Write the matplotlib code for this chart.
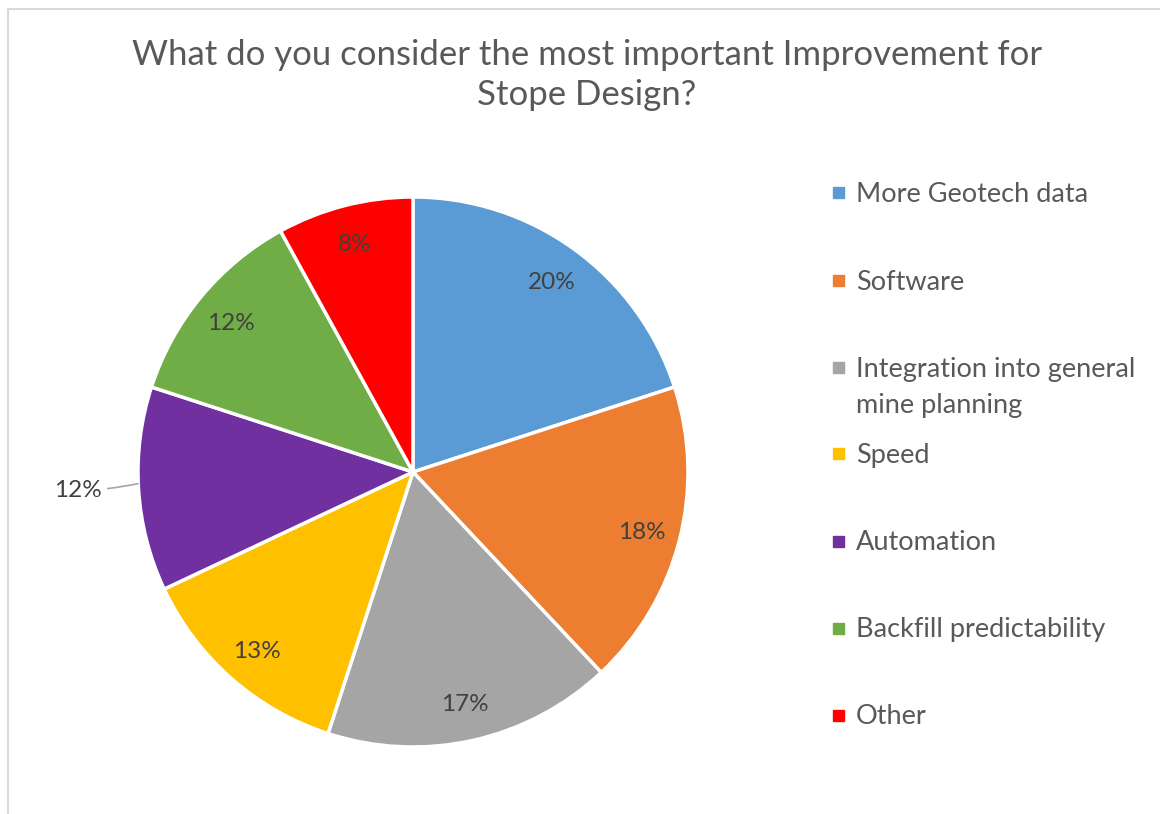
import matplotlib.pyplot as plt
from matplotlib.patches import Rectangle

plt.rcParams['font.family'] = ['Lato', 'DejaVu Sans']

# survey answers (share of respondents, %)
categories = ['More Geotech data', 'Software', 'Integration into general\nmine planning',
              'Speed', 'Automation', 'Backfill predictability', 'Other']
shares = [20, 18, 17, 13, 12, 12, 8]
colors = ['#5B9BD5', '#ED7D31', '#A5A5A5', '#FFC000', '#7030A0', '#70AD47', '#FF0000']
title = 'What do you consider the most important Improvement for\nStope Design?'

W, H = 1160, 814
fig = plt.figure(figsize=(W / 100, H / 100), dpi=100)

# chart frame (light grey, runs off the right/bottom edge)
fig.add_artist(plt.Line2D([8 / W, 8 / W], [0, 1 - 9 / H], color='#D9D9D9', lw=1.5))
fig.add_artist(plt.Line2D([8 / W, 1], [1 - 9 / H, 1 - 9 / H], color='#D9D9D9', lw=1.5))

fig.text(587 / W, 1 - 75 / H, title, ha='center', va='center', fontsize=25,
         color='#595959', linespacing=1.3)

# pie: centre (413, 472) px, radius ~274 px
cx, cy, R = 413, 472, 275
ax = fig.add_axes([(cx - R) / W, (H - cy - R) / H, 2 * R / W, 2 * R / H])
wedges, texts, autotexts = ax.pie(shares, colors=colors, startangle=90, counterclock=False,
                                  autopct='%d%%', pctdistance=0.86,
                                  wedgeprops=dict(edgecolor='white', linewidth=2.5),
                                  textprops=dict(fontsize=17.5, color='#404040'))
for t in autotexts:
    t.set_va('center_baseline')
ax.set_xlim(-1, 1)
ax.set_ylim(-1, 1)
ax.axis('off')

# the automation label sits outside the slice with a leader line
out = categories.index('Automation')
autotexts[out].set_visible(False)
ax.annotate('%d%%' % shares[out], xy=(-0.99, -0.04), xytext=(-1.13, -0.06),
            ha='right', va='center_baseline', fontsize=17.5, color='#404040',
            arrowprops=dict(arrowstyle='-', color='#A6A6A6', lw=1.2,
                            connectionstyle='arc3,rad=0.05'),
            annotation_clip=False)

# legend drawn by hand so the wrapped entry keeps its marker on the first line
leg_y = [192, 280, 367, 453, 541, 628, 715]
for lab, col, y in zip(categories, colors, leg_y):
    fig.add_artist(Rectangle((833 / W, 1 - (y + 5.5) / H), 11 / W, 11 / H,
                             color=col, transform=fig.transFigure))
    for i, line in enumerate(lab.split('\n')):
        fig.text(856 / W, 1 - (y + 9.5 + 36 * i) / H, line, ha='left', va='baseline',
                 fontsize=19.5, color='#595959')

fig.savefig('out.png', dpi=100, facecolor='white')
